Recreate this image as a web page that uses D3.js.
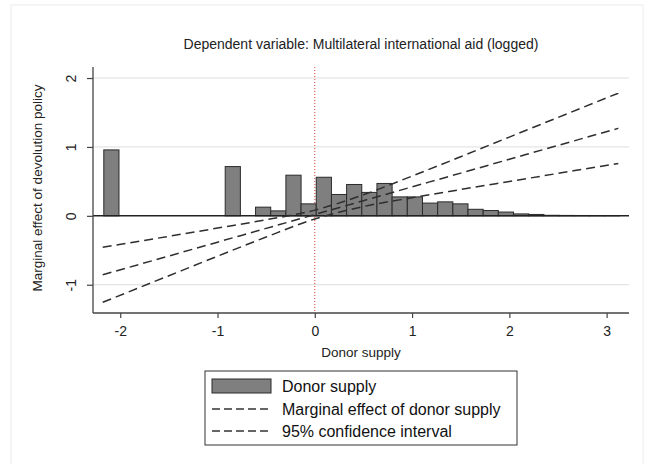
<!DOCTYPE html>
<html>
<head>
<meta charset="utf-8">
<script src="https://cdn.jsdelivr.net/npm/d3@7"></script>
<style>
  body { margin: 0; background: #fff; }
  svg { font-family: "Liberation Sans", Arial, Helvetica, sans-serif; display: block; }
</style>
</head>
<body>
<div id="chart"></div>
<script>
// histogram of donor supply (bin centres and heights)
const binWidth = 0.156;
const binCenters = [-2.091, -0.843, -0.531, -0.375, -0.219, -0.063, 0.093, 0.249, 0.405, 0.561,
  0.717, 0.873, 1.029, 1.185, 1.341, 1.497, 1.653, 1.809, 1.965, 2.121,
  2.277, 2.433, 2.589, 2.745, 2.901, 3.057];
const binHeights = [0.957, 0.715, 0.126, 0.072, 0.59, 0.174, 0.56, 0.31, 0.455, 0.34,
  0.47, 0.275, 0.275, 0.185, 0.203, 0.174, 0.095, 0.077, 0.055, 0.028,
  0.02, 0.008, 0.006, 0.005, 0.004, 0.003];

// marginal effect and 95% CI
const effectX = [-2.18, -1.5, -1.0, -0.5, 0, 0.5, 1.0, 1.5, 2.0, 2.5, 3.12];
const effectMid = [-0.855, -0.583, -0.382, -0.182, 0.019, 0.22, 0.42, 0.62, 0.821, 1.022, 1.27];
const effectUpper = [-0.455, -0.297, -0.178, -0.057, 0.083, 0.305, 0.577, 0.858, 1.143, 1.428, 1.78];
const effectLower = [-1.255, -0.869, -0.586, -0.307, -0.045, 0.135, 0.263, 0.382, 0.499, 0.616, 0.76];

const xTicks = [-2, -1, 0, 1, 2, 3];
const yTicks = [-1, 0, 1, 2];
const gridTicks = [-1, 1, 2];

const titleText = 'Dependent variable: Multilateral international aid (logged)';
const xLabel = 'Donor supply';
const yLabel = 'Marginal effect of devolution policy';
const legendLabels = ['Donor supply', 'Marginal effect of donor supply', '95% confidence interval'];

const width = 646, height = 464;
const plot = { left: 93, right: 629, top: 67, bottom: 313 };

const svg = d3.select('#chart').append('svg')
  .attr('width', width)
  .attr('height', height);

// faint outer frame
svg.append('rect')
  .attr('x', 11).attr('y', 5)
  .attr('width', 632).attr('height', 470)
  .attr('fill', 'none')
  .attr('stroke', '#ececec')
  .attr('stroke-width', 1);

const x = d3.scaleLinear().domain([-2.28, 3.23]).range([plot.left, plot.right]);
const y = d3.scaleLinear().domain([-1.41, 2.16]).range([plot.bottom, plot.top]);

// gridlines
svg.append('g')
  .selectAll('line')
  .data(gridTicks)
  .join('line')
  .attr('x1', plot.left).attr('x2', plot.right)
  .attr('y1', d => y(d)).attr('y2', d => y(d))
  .attr('stroke', '#dedede')
  .attr('stroke-width', 1);

// red dotted reference at x = 0
svg.append('line')
  .attr('x1', x(0)).attr('x2', x(0))
  .attr('y1', plot.top).attr('y2', plot.bottom)
  .attr('stroke', '#d9383a')
  .attr('stroke-width', 1)
  .attr('stroke-dasharray', '1,2');

// histogram bars
svg.append('g')
  .selectAll('rect')
  .data(binCenters.map((c, i) => ({ c, h: binHeights[i] })))
  .join('rect')
  .attr('x', d => x(d.c - binWidth / 2))
  .attr('width', d => x(d.c + binWidth / 2) - x(d.c - binWidth / 2))
  .attr('y', d => y(d.h))
  .attr('height', d => y(0) - y(d.h))
  .attr('fill', '#7f7f7f')
  .attr('stroke', '#2b2b2b')
  .attr('stroke-width', 1);

// zero line
svg.append('line')
  .attr('x1', plot.left).attr('x2', plot.right)
  .attr('y1', y(0)).attr('y2', y(0))
  .attr('stroke', '#222')
  .attr('stroke-width', 1.5);

// effect lines
const line = d3.line().x(d => x(d[0])).y(d => y(d[1])).curve(d3.curveMonotoneX);
[effectUpper, effectMid, effectLower].forEach(vals => {
  svg.append('path')
    .attr('d', line(effectX.map((v, i) => [v, vals[i]])))
    .attr('fill', 'none')
    .attr('stroke', '#2e2e2e')
    .attr('stroke-width', 1.5)
    .attr('stroke-dasharray', '9,5');
});

// axes
const xAxis = svg.append('g')
  .attr('transform', `translate(0,${plot.bottom})`)
  .call(d3.axisBottom(x).tickValues(xTicks).tickSize(5).tickFormat(d => String(d)));
const yAxis = svg.append('g')
  .attr('transform', `translate(${plot.left},0)`)
  .call(d3.axisLeft(y).tickValues(yTicks).tickSize(6).tickFormat(d => String(d)));

[xAxis, yAxis].forEach(a => {
  a.select('.domain').attr('stroke', '#444').attr('stroke-width', 1.3);
  a.selectAll('.tick line').attr('stroke', '#444').attr('stroke-width', 1.2);
  a.selectAll('.tick text').attr('fill', '#222').style('font-size', '14px');
});
xAxis.select('.domain').attr('d', `M${plot.left},0H${plot.right}`);
yAxis.select('.domain').attr('d', `M0,${plot.top}V${plot.bottom}`);
xAxis.selectAll('.tick text').attr('dy', '1.1em');
yAxis.selectAll('.tick text')
  .attr('x', 0).attr('dy', 0)
  .attr('text-anchor', 'middle')
  .attr('transform', 'translate(-17,0) rotate(-90)');

// titles
svg.append('text')
  .attr('x', (plot.left + plot.right) / 2).attr('y', 49)
  .attr('text-anchor', 'middle')
  .style('font-size', '14px').attr('fill', '#222')
  .text(titleText);
svg.append('text')
  .attr('x', (plot.left + plot.right) / 2).attr('y', 357)
  .attr('text-anchor', 'middle')
  .style('font-size', '13.5px').attr('fill', '#222')
  .text(xLabel);
svg.append('text')
  .attr('transform', 'translate(42,188) rotate(-90)')
  .attr('text-anchor', 'middle')
  .style('font-size', '13.5px').attr('fill', '#222')
  .text(yLabel);

// legend
const legend = svg.append('g').attr('transform', 'translate(205,371)');
legend.append('rect')
  .attr('width', 312).attr('height', 74)
  .attr('fill', '#fff').attr('stroke', '#333').attr('stroke-width', 1);
const rowY = [15, 38, 60];
legend.append('rect')
  .attr('x', 7).attr('y', rowY[0] - 7)
  .attr('width', 59).attr('height', 14)
  .attr('fill', '#7f7f7f').attr('stroke', '#2b2b2b');
[1, 2].forEach(i => {
  legend.append('line')
    .attr('x1', 7).attr('x2', 66)
    .attr('y1', rowY[i]).attr('y2', rowY[i])
    .attr('stroke', '#333').attr('stroke-width', 1.3)
    .attr('stroke-dasharray', '8,4');
});
legend.selectAll('text.lg')
  .data(legendLabels)
  .join('text')
  .attr('class', 'lg')
  .attr('x', 77).attr('y', (d, i) => rowY[i] + 5.5)
  .style('font-size', '16px').attr('fill', '#111')
  .text(d => d);
</script>
</body>
</html>
